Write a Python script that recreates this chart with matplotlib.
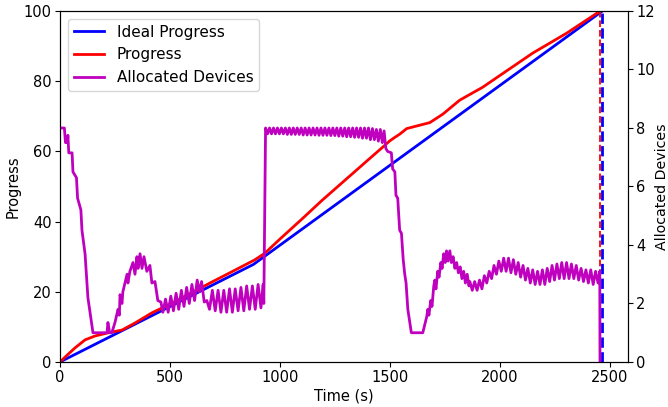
import matplotlib
matplotlib.use("Agg")
import matplotlib.pyplot as plt

# Ideal progress
ideal_t = [0, 880, 2467]
ideal_p = [0, 27.8, 100]

# Actual progress
prog_t = [0, 30, 68, 114, 159, 218, 282, 341, 418, 491, 560, 682, 800, 886, 932,
          1000, 1100, 1191, 1300, 1400, 1464, 1500, 1523, 1545, 1577, 1620, 1682,
          1741, 1818, 1923, 2000, 2150, 2305, 2457]
prog_p = [0, 1.8, 4.0, 6.3, 7.4, 8.3, 9.1, 11.1, 14.0, 16.2, 18.4, 22.5, 26.3, 29.1, 31.0,
          35.0, 40.7, 46.0, 52.0, 57.5, 61.0, 63.0, 64.0, 64.9, 66.5, 67.2, 68.2,
          70.6, 74.6, 78.3, 81.6, 88.0, 93.7, 100]

# Allocated devices
dev_t = [0, 20, 25, 33, 36, 40, 55, 59, 75, 80, 95, 100, 114, 127, 150, 214, 218, 226, 236,
         250, 264, 270, 273, 282, 286, 305, 309, 318, 332, 341, 350, 355, 364, 373, 382,
         395, 409, 418, 432, 445, 459,
         468, 480, 492, 504, 516, 528, 540, 552, 564, 576, 588, 600, 612, 624, 634, 644,
         656, 668, 680, 693, 706, 719, 732, 745, 758, 771, 784, 797, 810, 823, 836, 849,
         862, 875, 888, 901, 914, 924, 927,
         935, 944, 953, 962, 971, 980, 989, 998, 1007, 1016, 1025, 1034, 1043, 1052, 1061,
         1070, 1079, 1088, 1097, 1106, 1115, 1124, 1133, 1142, 1151, 1160, 1169, 1178, 1187,
         1196, 1205, 1214, 1223, 1232, 1241, 1250, 1259, 1268, 1277, 1286, 1295, 1304, 1313,
         1322, 1331, 1340, 1349, 1358, 1367, 1376, 1385, 1394, 1403, 1412, 1421, 1430, 1439,
         1448, 1457, 1466, 1474, 1482,
         1490, 1507, 1513, 1523, 1528, 1536, 1545, 1553, 1561, 1568, 1574, 1582, 1598, 1650,
         1668, 1673, 1678, 1686, 1692, 1700, 1705, 1710, 1718, 1724, 1732, 1738, 1745, 1752,
         1758, 1765, 1773, 1780, 1788, 1796, 1804, 1812, 1820, 1828, 1836, 1844, 1852, 1860,
         1864, 1875, 1886, 1897, 1908, 1919, 1930, 1941, 1952, 1963, 1974, 1985, 1996, 2007,
         2018, 2029, 2040, 2051, 2062, 2073, 2084, 2095, 2106, 2117, 2128, 2139, 2150, 2161,
         2172, 2183, 2194, 2205, 2216, 2227, 2238, 2249, 2260, 2271, 2282, 2293, 2304, 2315,
         2326, 2337, 2348, 2359, 2370, 2381, 2392, 2403, 2414, 2425, 2436, 2447, 2455, 2456]
dev_n = [8.0, 8.0, 7.5, 7.5, 7.75, 7.15, 7.15, 6.5, 6.3, 5.6, 5.2, 4.5, 3.7, 2.2, 1.0, 1.0, 1.35, 1.0, 1.0,
         1.35, 1.8, 1.6, 2.3, 2.0, 2.4, 3.0, 2.7, 3.1, 3.4, 3.0, 3.6, 3.2, 3.7, 3.2, 3.6,
         3.1, 3.3, 2.7, 2.75, 2.1, 2.05,
         1.7, 2.15, 1.7, 2.25, 1.75, 2.35, 1.8, 2.45, 1.9, 2.55, 2.0, 2.65, 2.1, 2.8, 2.4, 2.75,
         2.05, 2.1, 1.8, 2.45, 1.75, 2.45, 1.7, 2.45, 1.7, 2.5, 1.7, 2.5, 1.75, 2.55, 1.75, 2.6,
         1.8, 2.6, 1.8, 2.65, 1.85, 2.65, 2.0,
         8.0, 7.8, 8.0, 7.8, 8.0, 7.8, 8.0, 7.8, 8.0, 7.8, 8.0, 7.78, 8.0, 7.78, 8.0,
         7.78, 8.0, 7.78, 8.0, 7.76, 8.0, 7.76, 8.0, 7.76, 8.0, 7.76, 8.0, 7.75, 8.0,
         7.75, 8.0, 7.75, 8.0, 7.74, 8.0, 7.74, 8.0, 7.72, 8.0, 7.72, 8.0, 7.7, 8.0,
         7.7, 8.0, 7.68, 8.0, 7.68, 8.0, 7.65, 8.0, 7.65, 8.0, 7.6, 7.98, 7.6, 7.95,
         7.55, 7.95, 7.5, 7.9, 7.3,
         7.2, 7.15, 6.6, 6.5, 5.7, 5.6, 4.5, 4.4, 3.5, 3.0, 2.7, 1.8, 1.0, 1.0,
         1.55, 1.8, 1.6, 2.1, 1.9, 2.6, 2.8, 2.5, 3.1, 2.9, 3.4, 3.2, 3.7, 3.4,
         3.8, 3.45, 3.8, 3.4, 3.6, 3.2, 3.4, 3.05, 3.25, 2.85, 3.1, 2.7, 3.0, 2.6,
         2.75, 2.45, 2.75, 2.45, 2.8, 2.5, 2.95, 2.7, 3.1, 2.85, 3.3, 3.0, 3.45, 3.1,
         3.55, 3.1, 3.55, 3.05, 3.5, 3.0, 3.4, 2.9, 3.3, 2.8, 3.2, 2.7, 3.15, 2.65,
         3.1, 2.65, 3.15, 2.65, 3.2, 2.75, 3.3, 2.8, 3.35, 2.85, 3.4, 2.85, 3.4, 2.85,
         3.35, 2.85, 3.3, 2.8, 3.2, 2.75, 3.15, 2.7, 3.15, 2.65, 3.1, 2.7, 3.1, 0.0]

end_actual = 2457
end_ideal = 2467

FS = 10.5
fig, ax1 = plt.subplots(figsize=(6.68, 4.07), dpi=100)
fig.subplots_adjust(left=0.0898, right=0.940, bottom=0.1106, top=0.973)

l1, = ax1.plot(ideal_t, ideal_p, color='b', lw=2, label='Ideal Progress')
l2, = ax1.plot(prog_t, prog_p, color='r', lw=2, label='Progress')
ax1.axvline(end_actual, color='r', ls='--', lw=1.3)
ax1.axvline(end_ideal, color='b', ls='--', lw=2)
ax1.set_xlim(0, 2583)
ax1.set_ylim(0, 100)
ax1.set_xlabel('Time (s)', fontsize=FS, labelpad=2)
ax1.set_ylabel('Progress', fontsize=FS, labelpad=2)
ax1.tick_params(labelsize=FS, pad=2.5)

ax2 = ax1.twinx()
l3, = ax2.plot(dev_t, dev_n, color='m', lw=2, label='Allocated Devices')
ax2.set_ylim(0, 12)
ax2.set_ylabel('Allocated Devices', fontsize=10.2, labelpad=0)
ax2.tick_params(labelsize=FS, pad=2.5)

ax2.legend(handles=[l1, l2, l3], loc='upper left', fontsize=FS + 0.5)

fig.savefig('out.png', dpi=100)
